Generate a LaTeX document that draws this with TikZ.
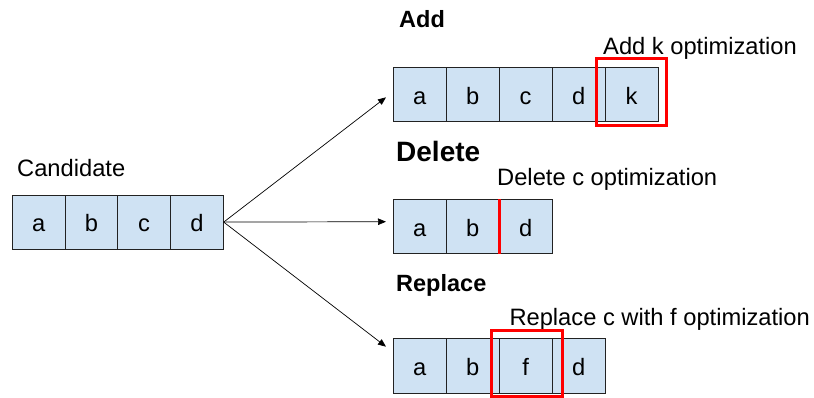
\documentclass[tikz,border=0pt]{standalone}
\usepackage{fontspec}
\setmainfont{Liberation Sans}
\usetikzlibrary{arrows.meta}
\definecolor{cellblue}{HTML}{CFE2F3}
\definecolor{cellline}{HTML}{222222}
\tikzset{
  cell/.style={draw=cellline, fill=cellblue, line width=0.9pt, inner sep=0pt,
    minimum width=53pt, minimum height=54.3pt, anchor=north west,
    text height=20pt, text depth=0.4pt,
    font=\fontsize{23.7}{28}\selectfont},
  lbl/.style={anchor=base west, inner sep=0pt, font=\fontsize{23.7}{28}\selectfont},
  title/.style={anchor=base west, inner sep=0pt, font=\bfseries\fontsize{23.5}{28}\selectfont},
  redmark/.style={draw=red, line width=3pt},
  flow/.style={draw=black, line width=0.7pt, -{Triangle[length=8pt,width=6.5pt]}},
}
\begin{document}
\begin{tikzpicture}[x=1pt, y=-1pt]
\useasboundingbox (0,0) rectangle (814,397);

% candidate
\node[lbl] (candlbl) at (17,176.7) {Candidate};
\node[cell, minimum width=52.75pt] (ca) at (11.8,194.5) {a};
\node[cell, minimum width=52.75pt] (cb) at (64.55,194.5) {b};
\node[cell, minimum width=52.75pt] (cc) at (117.3,194.5) {c};
\node[cell, minimum width=52.75pt] (cd) at (170.05,194.5) {d};

% add
\node[title] (addt) at (399,27.3) {Add};
\node[lbl] (addlbl) at (603,54) {Add k optimization};
\node[cell] (aa) at (392.7,66.7) {a};
\node[cell] (ab) at (445.7,66.7) {b};
\node[cell] (ac) at (498.7,66.7) {c};
\node[cell] (ad) at (551.7,66.7) {d};
\node[cell] (ak) at (604.7,66.7) {k};
\draw[redmark] (596,58.3) rectangle (666,125);

% delete
\node[title, font=\bfseries\fontsize{28}{32}\selectfont] (delt) at (396,161.7) {Delete};
\node[lbl] (dellbl) at (497,185) {Delete c optimization};
\node[cell] (da) at (392.7,199) {a};
\node[cell] (db) at (445.7,199) {b};
\node[cell] (dd) at (498.7,199) {d};
\draw[red, line width=3pt] (db.north east) -- (db.south east);

% replace
\node[title] (rept) at (396,291.7) {Replace};
\node[lbl] (replbl) at (509.3,325) {Replace c with f optimization};
\node[cell] (ra) at (392.7,338.3) {a};
\node[cell] (rb) at (445.7,338.3) {b};
\node[cell] (rf) at (498.7,338.3) {f};
\node[cell] (rd) at (551.7,338.3) {d};
\draw[redmark] (491.7,330.7) rectangle (562.7,396.2);

% branches
\coordinate (toadd) at (386,97.3);
\coordinate (todel) at (386,221.7);
\coordinate (torep) at (386,346.7);
\draw[flow] (cd.east) -- (toadd);
\draw[flow] (cd.east) -- (todel);
\draw[flow] (cd.east) -- (torep);
\end{tikzpicture}
\end{document}
